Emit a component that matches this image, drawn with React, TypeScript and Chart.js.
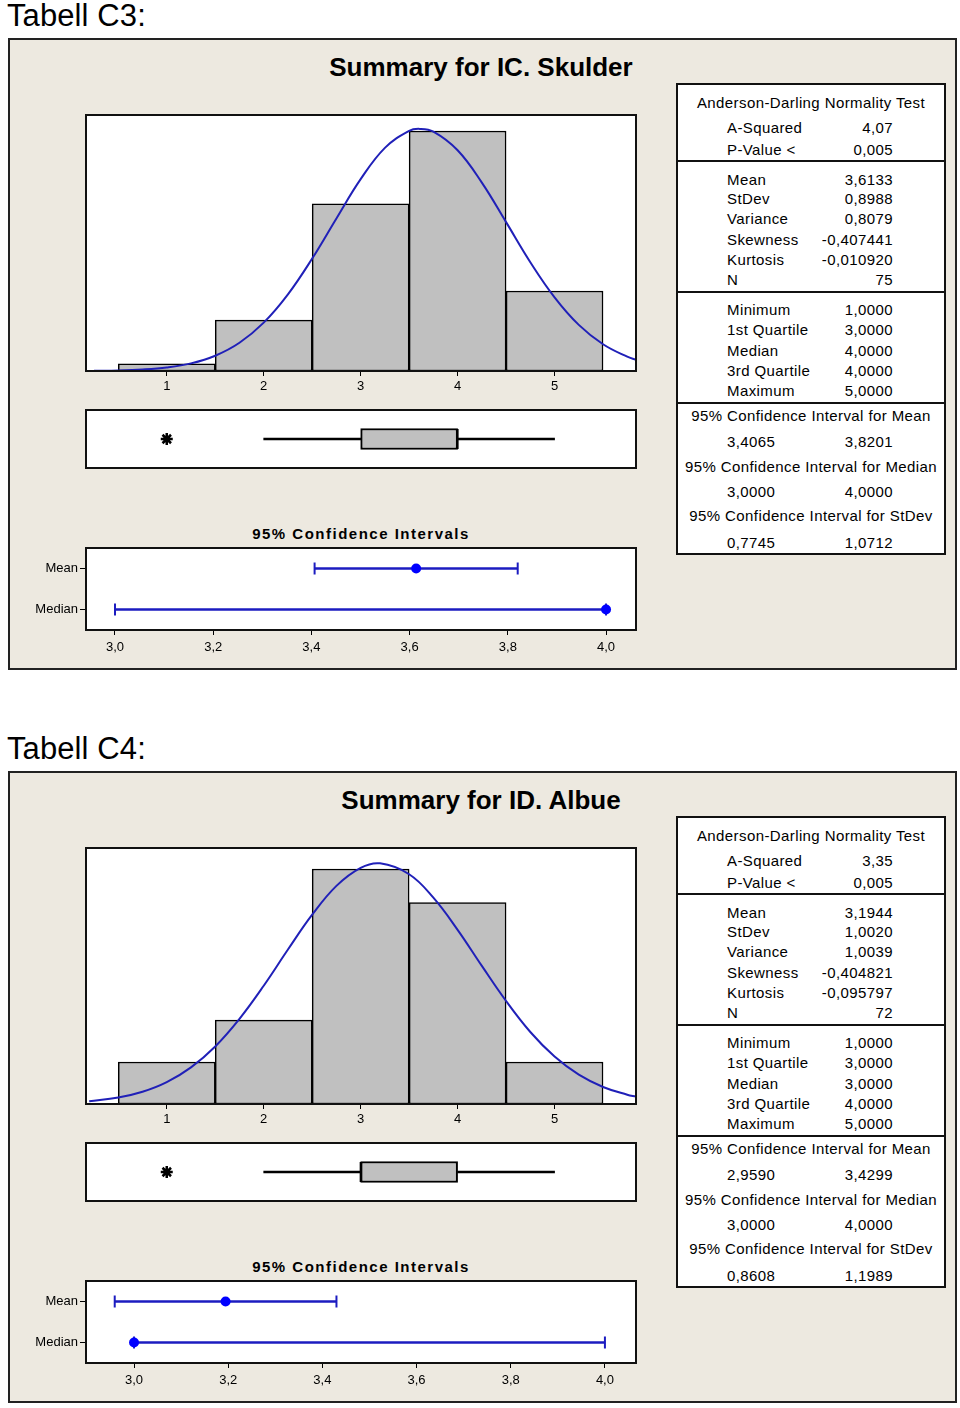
import React, { useEffect, useRef } from 'react';
import { Chart, registerables } from 'chart.js';
Chart.register(...registerables);

Chart.defaults.font.family = '"Liberation Sans", Arial, sans-serif';
Chart.defaults.font.size = 13;
Chart.defaults.color = '#000';

// ---------- Data: Tabell C3 (IC. Skulder) ----------
const HIST_BINS = [1, 2, 3, 4, 5];
const HIST_TICK_LABELS = ['1', '2', '3', '4', '5'];
const HIST_X_MIN = 0.167;
const HIST_X_MAX = 5.84;

const C3_COUNTS = [1, 7, 23, 33, 11];
const C3_Y_MAX = 35.2;
const C3_CURVE_X = [0.25, 0.5, 0.75, 1, 1.25, 1.5, 1.75, 2, 2.25, 2.5, 2.75, 3, 3.25, 3.5, 3.61, 3.75, 4, 4.25, 4.5, 4.75, 5, 5.25, 5.5, 5.75, 5.84];
const C3_CURVE_Y = [0.04, 0.08, 0.21, 0.49, 1.05, 2.1, 3.88, 6.65, 10.54, 15.46, 20.98, 26.38, 30.68, 33.03, 33.29, 32.91, 30.35, 25.9, 20.47, 14.96, 10.13, 6.34, 3.68, 1.97, 1.55];
// whisker low, Q1, median, Q3, whisker high
const C3_BOX = [2, 3, 4, 4, 5];
const C3_OUTLIERS = [1];

const CI_LABELS = ['Mean', 'Median'];
const C3_CI_LOW = [3.4065, 3.0];
const C3_CI_HIGH = [3.8201, 4.0];
const C3_CI_EST = [3.6133, 4.0];
const C3_CI_X_MIN = 2.941;
const C3_CI_X_MAX = 4.061;
const CI_TICKS = [3.0, 3.2, 3.4, 3.6, 3.8, 4.0];
const CI_TICK_LABELS = ['3,0', '3,2', '3,4', '3,6', '3,8', '4,0'];

const AD_LABELS = ['A-Squared', 'P-Value <'];
const MOM_LABELS = ['Mean', 'StDev', 'Variance', 'Skewness', 'Kurtosis', 'N'];
const QUART_LABELS = ['Minimum', '1st Quartile', 'Median', '3rd Quartile', 'Maximum'];
const CI_HEADERS = ['95% Confidence Interval for Mean', '95% Confidence Interval for Median', '95% Confidence Interval for StDev'];

const C3_AD_VALUES = ['4,07', '0,005'];
const C3_MOM_VALUES = ['3,6133', '0,8988', '0,8079', '-0,407441', '-0,010920', '75'];
const C3_QUART_VALUES = ['1,0000', '3,0000', '4,0000', '4,0000', '5,0000'];
const C3_CI_VALUES = [['3,4065', '3,8201'], ['3,0000', '4,0000'], ['0,7745', '1,0712']];

// ---------- Data: Tabell C4 (ID. Albue) ----------
const C4_COUNTS = [5, 10, 28, 24, 5];
const C4_Y_MAX = 30.5;
const C4_CURVE_X = [0.2, 0.5, 0.75, 1, 1.25, 1.5, 1.75, 2, 2.25, 2.5, 2.75, 3, 3.2, 3.5, 3.75, 4, 4.25, 4.5, 4.75, 5, 5.25, 5.5, 5.75, 5.84];
const C4_CURVE_Y = [0.33, 0.77, 1.46, 2.61, 4.37, 6.86, 10.15, 14.09, 18.4, 22.55, 25.99, 28.14, 28.67, 27.37, 24.58, 20.75, 16.45, 12.27, 8.58, 5.65, 3.49, 2.03, 1.11, 0.88];
const C4_BOX = [2, 3, 3, 4, 5];
const C4_OUTLIERS = [1];

const C4_CI_LOW = [2.959, 3.0];
const C4_CI_HIGH = [3.4299, 4.0];
const C4_CI_EST = [3.1944, 3.0];
const C4_CI_X_MIN = 2.898;
const C4_CI_X_MAX = 4.066;

const C4_AD_VALUES = ['3,35', '0,005'];
const C4_MOM_VALUES = ['3,1944', '1,0020', '1,0039', '-0,404821', '-0,095797', '72'];
const C4_QUART_VALUES = ['1,0000', '3,0000', '3,0000', '4,0000', '5,0000'];
const C4_CI_VALUES = [['2,9590', '3,4299'], ['3,0000', '4,0000'], ['0,8608', '1,1989']];

// ---------- Styles ----------
const BG = '#EDE9E0';
const CURVE_BLUE = '#2020B8';
const CI_BLUE = '#1C1CC0';
const PT_BLUE = '#0000FF';
const BAR_GRAY = '#C0C0C0';
const FONT = '"Liberation Sans", Arial, sans-serif';

const framePlugin = {
  id: 'frame',
  beforeDraw(chart: any) {
    const { ctx, chartArea: a } = chart;
    ctx.save();
    ctx.fillStyle = '#fff';
    ctx.fillRect(a.left, a.top, a.right - a.left, a.bottom - a.top);
    ctx.restore();
  },
  afterDraw(chart: any) {
    const { ctx, chartArea: a } = chart;
    ctx.save();
    ctx.strokeStyle = '#111';
    ctx.lineWidth = 2;
    ctx.strokeRect(a.left, a.top, a.right - a.left, a.bottom - a.top);
    ctx.restore();
  },
};

const tickGrid = { display: true, drawOnChartArea: false, drawTicks: true, tickLength: 5, color: '#000', lineWidth: 1, offset: false };

function useChart(ref: React.RefObject<HTMLCanvasElement>, makeConfig: () => any) {
  useEffect(() => {
    const chart = new Chart(ref.current as HTMLCanvasElement, makeConfig());
    return () => chart.destroy();
  }, []);
}

function HistChart({ counts, curveX, curveY, yMax, top }: any) {
  const ref = useRef<HTMLCanvasElement>(null);
  useChart(ref, () => ({
    type: 'bar',
    data: {
      datasets: [
        {
          type: 'line',
          data: curveX.map((x: number, i: number) => ({ x, y: curveY[i] })),
          borderColor: CURVE_BLUE,
          borderWidth: 2,
          pointRadius: 0,
          tension: 0.4,
          order: 1,
        },
        {
          type: 'bar',
          data: HIST_BINS.map((x, i) => ({ x, y: counts[i] })),
          backgroundColor: BAR_GRAY,
          borderColor: '#000',
          borderWidth: 1.5,
          borderSkipped: false,
          barPercentage: 1,
          categoryPercentage: 1,
          order: 2,
        },
      ],
    },
    options: {
      animation: false,
      responsive: false,
      maintainAspectRatio: false,
      layout: { autoPadding: false, padding: { left: 2, right: 2, top: 2, bottom: 0 } },
      plugins: { legend: { display: false }, tooltip: { enabled: false } },
      scales: {
        x: {
          type: 'linear',
          min: HIST_X_MIN,
          max: HIST_X_MAX,
          offset: false,
          afterBuildTicks: (s: any) => { s.ticks = HIST_BINS.map((v) => ({ value: v })); },
          afterFit: (s: any) => { s.height = 28; s.paddingLeft = 0; s.paddingRight = 0; },
          grid: tickGrid,
          border: { display: false },
          ticks: { color: '#000', padding: 3, font: { size: 13 }, maxRotation: 0, callback: (_v: any, i: number) => HIST_TICK_LABELS[i] },
        },
        y: { display: false, min: 0, max: yMax },
      },
    },
    plugins: [framePlugin],
  }));
  return <canvas ref={ref} width={554} height={286} style={{ position: 'absolute', left: 84, top, width: 554, height: 286 }} />;
}

function BoxChart({ box, outliers, top }: any) {
  const ref = useRef<HTMLCanvasElement>(null);
  const cat = 'box';
  useChart(ref, () => ({
    type: 'bar',
    data: {
      labels: [cat],
      datasets: [
        { type: 'scatter', data: outliers.map((x: number) => ({ x, y: cat })), pointStyle: 'star', radius: 6, borderColor: '#000', borderWidth: 2.5, order: 0 },
        { type: 'bar', data: [[box[1], box[3]]], backgroundColor: BAR_GRAY, borderColor: '#000', borderWidth: 2, borderSkipped: false, barThickness: 21, grouped: false, order: 1 },
        { type: 'bar', data: [[box[0], box[1]]], backgroundColor: '#000', borderWidth: 0, barThickness: 2, grouped: false, order: 2 },
        { type: 'bar', data: [[box[3], box[4]]], backgroundColor: '#000', borderWidth: 0, barThickness: 2, grouped: false, order: 2 },
        { type: 'scatter', data: [{ x: box[2], y: cat }], pointStyle: 'line', rotation: 90, radius: 10, borderColor: '#000', borderWidth: 2, order: 0 },
      ],
    },
    options: {
      indexAxis: 'y',
      animation: false,
      responsive: false,
      maintainAspectRatio: false,
      layout: { autoPadding: false, padding: 2 },
      plugins: { legend: { display: false }, tooltip: { enabled: false } },
      scales: {
        x: { type: 'linear', min: HIST_X_MIN, max: HIST_X_MAX, display: false, offset: false },
        y: { type: 'category', display: false },
      },
    },
    plugins: [framePlugin],
  }));
  return <canvas ref={ref} width={554} height={62} style={{ position: 'absolute', left: 84, top, width: 554, height: 62 }} />;
}

function CIChart({ low, high, est, xMin, xMax, top }: any) {
  const ref = useRef<HTMLCanvasElement>(null);
  useChart(ref, () => ({
    type: 'bar',
    data: {
      labels: CI_LABELS,
      datasets: [
        { type: 'scatter', data: est.map((x: number, i: number) => ({ x, y: CI_LABELS[i] })), pointStyle: 'circle', radius: 5, backgroundColor: PT_BLUE, borderColor: PT_BLUE, borderWidth: 0, order: 0 },
        {
          type: 'scatter',
          data: [...low.map((x: number, i: number) => ({ x, y: CI_LABELS[i] })), ...high.map((x: number, i: number) => ({ x, y: CI_LABELS[i] }))],
          pointStyle: 'line', rotation: 90, radius: 6, borderColor: CI_BLUE, borderWidth: 2, order: 1,
        },
        { type: 'bar', data: low.map((l: number, i: number) => [l, high[i]]), backgroundColor: CI_BLUE, borderWidth: 0, barThickness: 2, grouped: false, order: 2 },
      ],
    },
    options: {
      indexAxis: 'y',
      animation: false,
      responsive: false,
      maintainAspectRatio: false,
      layout: { autoPadding: false, padding: { left: 0, right: 2, top: 2, bottom: 0 } },
      plugins: { legend: { display: false }, tooltip: { enabled: false } },
      scales: {
        x: {
          type: 'linear',
          min: xMin,
          max: xMax,
          offset: false,
          afterBuildTicks: (s: any) => { s.ticks = CI_TICKS.map((v) => ({ value: v })); },
          afterFit: (s: any) => { s.height = 28; s.paddingLeft = 0; s.paddingRight = 0; },
          grid: tickGrid,
          border: { display: false },
          ticks: { color: '#000', padding: 5, font: { size: 13 }, maxRotation: 0, callback: (_v: any, i: number) => CI_TICK_LABELS[i] },
        },
        y: {
          type: 'category',
          position: 'left',
          afterFit: (s: any) => { s.width = 50; s.paddingTop = 0; s.paddingBottom = 0; },
          grid: { ...tickGrid, tickLength: 6 },
          border: { display: false },
          ticks: { color: '#000', padding: 2, font: { size: 13 } },
        },
      },
    },
    plugins: [framePlugin],
  }));
  return <canvas ref={ref} width={602} height={112} style={{ position: 'absolute', left: 36, top, width: 602, height: 112 }} />;
}

const txt = (top: number, left: number, width: number, align: any, s: string, extra: any = {}) => (
  <div style={{ position: 'absolute', top: top - 10, left, width, height: 20, lineHeight: '20px', textAlign: align, whiteSpace: 'nowrap', fontFamily: FONT, fontSize: 15, letterSpacing: 0.4, color: '#000', ...extra }}>{s}</div>
);

function StatsTable({ dy, ad, mom, quart, ci }: any) {
  const AD_Y = [128, 150];
  const MOM_Y = [180, 199, 219, 240, 260, 280];
  const Q_Y = [310, 330, 351, 371, 391];
  const CIH_Y = [416, 467, 516];
  const CIV_Y = [442, 492, 543];
  const LX = 727;
  const items: any[] = [];
  items.push(txt(103 + dy, 676, 270, 'center', 'Anderson-Darling Normality Test'));
  AD_LABELS.forEach((l, i) => { items.push(txt(AD_Y[i] + dy, LX, 120, 'left', l)); items.push(txt(AD_Y[i] + dy, 783, 110, 'right', ad[i])); });
  MOM_LABELS.forEach((l, i) => { items.push(txt(MOM_Y[i] + dy, LX, 120, 'left', l)); items.push(txt(MOM_Y[i] + dy, 783, 110, 'right', mom[i])); });
  QUART_LABELS.forEach((l, i) => { items.push(txt(Q_Y[i] + dy, LX, 120, 'left', l)); items.push(txt(Q_Y[i] + dy, 783, 110, 'right', quart[i])); });
  CI_HEADERS.forEach((h, i) => {
    items.push(txt(CIH_Y[i] + dy, 676, 270, 'center', h));
    items.push(txt(CIV_Y[i] + dy, LX, 120, 'left', ci[i][0]));
    items.push(txt(CIV_Y[i] + dy, 783, 110, 'right', ci[i][1]));
  });
  const sep = (y: number) => <div style={{ position: 'absolute', left: 676, top: y - 1 + dy, width: 270, height: 2, background: '#111' }} />;
  return (
    <>
      <div style={{ position: 'absolute', left: 676, top: 83 + dy, width: 270, height: 472, boxSizing: 'border-box', border: '2px solid #111', background: '#fff' }} />
      {sep(161)}
      {sep(292)}
      {sep(403)}
      {items.map((el, i) => React.cloneElement(el, { key: i }))}
    </>
  );
}

function Panel({ dy, tableTitle, title, counts, curveX, curveY, yMax, box, outliers, ciLow, ciHigh, ciEst, ciMin, ciMax, ad, mom, quart, ci }: any) {
  return (
    <>
      <div style={{ position: 'absolute', left: 7, top: 0 + dy, fontFamily: FONT, fontSize: 31, lineHeight: '31px', color: '#000', letterSpacing: 0.1 }}>{tableTitle}</div>
      <div style={{ position: 'absolute', left: 8, top: 38 + dy, width: 949, height: 632, boxSizing: 'border-box', border: '2px solid #222', background: BG }} />
      <div style={{ position: 'absolute', left: 281, top: 52 + dy, width: 400, textAlign: 'center', fontFamily: FONT, fontWeight: 'bold', fontSize: 26, lineHeight: '30px', color: '#000' }}>{title}</div>
      <HistChart counts={counts} curveX={curveX} curveY={curveY} yMax={yMax} top={113 + dy} />
      <BoxChart box={box} outliers={outliers} top={408 + dy} />
      <div style={{ position: 'absolute', left: 161, top: 524 + dy, width: 400, textAlign: 'center', fontFamily: FONT, fontWeight: 'bold', fontSize: 15, lineHeight: '20px', letterSpacing: 1.5, color: '#000' }}>95% Confidence Intervals</div>
      <CIChart low={ciLow} high={ciHigh} est={ciEst} xMin={ciMin} xMax={ciMax} top={546 + dy} />
      <StatsTable dy={dy} ad={ad} mom={mom} quart={quart} ci={ci} />
    </>
  );
}

export default function App() {
  return (
    <div style={{ position: 'absolute', left: 0, top: 0, width: 960, height: 1408, background: '#fff' }}>
      <Panel dy={0} tableTitle="Tabell C3:" title="Summary for IC. Skulder"
        counts={C3_COUNTS} curveX={C3_CURVE_X} curveY={C3_CURVE_Y} yMax={C3_Y_MAX}
        box={C3_BOX} outliers={C3_OUTLIERS}
        ciLow={C3_CI_LOW} ciHigh={C3_CI_HIGH} ciEst={C3_CI_EST} ciMin={C3_CI_X_MIN} ciMax={C3_CI_X_MAX}
        ad={C3_AD_VALUES} mom={C3_MOM_VALUES} quart={C3_QUART_VALUES} ci={C3_CI_VALUES} />
      <Panel dy={733} tableTitle="Tabell C4:" title="Summary for ID. Albue"
        counts={C4_COUNTS} curveX={C4_CURVE_X} curveY={C4_CURVE_Y} yMax={C4_Y_MAX}
        box={C4_BOX} outliers={C4_OUTLIERS}
        ciLow={C4_CI_LOW} ciHigh={C4_CI_HIGH} ciEst={C4_CI_EST} ciMin={C4_CI_X_MIN} ciMax={C4_CI_X_MAX}
        ad={C4_AD_VALUES} mom={C4_MOM_VALUES} quart={C4_QUART_VALUES} ci={C4_CI_VALUES} />
    </div>
  );
}
